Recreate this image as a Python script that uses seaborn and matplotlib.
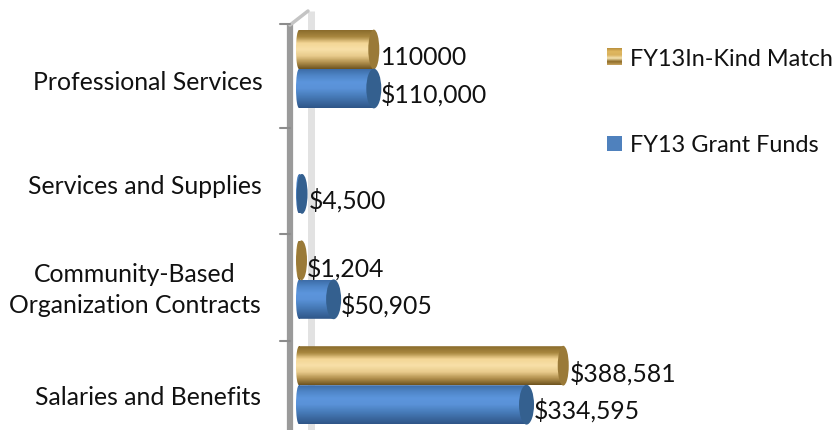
import numpy as np
import pandas as pd
import matplotlib
matplotlib.use('Agg')
import matplotlib.pyplot as plt
import seaborn as sns
from matplotlib.colors import LinearSegmentedColormap
from matplotlib.patches import Ellipse, Rectangle
from matplotlib.path import Path
from matplotlib.transforms import Affine2D

# Chart values, top to bottom
categories = ['Professional Services', 'Services and Supplies',
              'Community-Based\nOrganization Contracts', 'Salaries and Benefits']
series_names = ['FY13In-Kind Match', 'FY13 Grant Funds']
match_values = [110000, np.nan, 1204, 388581]
grant_values = [110000, 4500, 50905, 334595]
match_labels = ['110000', '', '$1,204', '$388,581']
grant_labels = ['$110,000', '$4,500', '$50,905', '$334,595']

gold_stops = ['#8a6c2c', '#a8873f', '#f3d696', '#f8e0a8', '#e8cb8c', '#b3924f', '#6f5420']
blue_stops = ['#3d6da8', '#4f86c8', '#5c95dc', '#5a92d8', '#4a7fbe', '#3d6ba3', '#2f5688']
gold_cap = '#9a7a38'
blue_cap = '#34608f'

# pixel layout of the picture
W, H = 833, 431
x0_px, x_scale = 296, 0.00068      # px of $0, px per dollar
y0_px, y_scale = 70, 105.4         # px of first category, px per category

sns.set_theme(style='white')
plt.rcParams['font.family'] = ['Lato', 'DejaVu Sans']
text_size = 17.8
legend_size = 16.9

df = pd.DataFrame({
    'category': categories * 2,
    'series': [series_names[0]] * 4 + [series_names[1]] * 4,
    'value': match_values + grant_values,
})

fig = plt.figure(figsize=(W / 100, H / 100), dpi=100)
ax = fig.add_axes([0, 0, 1, 1])
sns.barplot(data=df, y='category', x='value', hue='series', order=categories,
            hue_order=series_names, width=0.74, gap=0, legend=False, ax=ax,
            palette=[gold_cap, blue_cap], orient='h')


def px_x(p):
    return (p - x0_px) / x_scale


def px_y(p):
    return (p - y0_px) / y_scale


xlim = (px_x(0), px_x(W))
ylim = (px_y(H), px_y(0))
ax.set_xlabel('')
ax.set_ylabel('')
ax.set_yticks([])
ax.set_xticks([])
sns.despine(ax=ax, left=True, bottom=True)


def gradient(x1, x2, y1, y2, stops, clip=None, zorder=3):
    cmap = LinearSegmentedColormap.from_list('g', stops)
    im = ax.imshow(np.linspace(0, 1, 64).reshape(-1, 1), cmap=cmap, aspect='auto',
                   extent=(x1, x2, y2, y1), zorder=zorder, interpolation='bilinear')
    if clip is not None:
        im.set_clip_path(clip, transform=ax.transData)
    return im


def body_path(x2, y, h):
    # rectangle with a rounded left end
    r = 3 / x_scale
    rect = Path([(r, y), (x2, y), (x2, y + h), (r, y + h), (r, y)])
    end = Path.unit_circle().transformed(Affine2D().scale(r, h / 2).translate(r, y + h / 2))
    return Path.make_compound_path(rect, end)


# back wall and axis
ax.plot([px_x(311)] * 2, [px_y(12), px_y(431)], color='#e2e2e2', lw=5, zorder=1,
        solid_capstyle='butt')
ax.plot([px_x(290)] * 2, [px_y(25), px_y(431)], color='#9a9a9a', lw=4.5, zorder=2,
        solid_capstyle='butt')
ax.plot([px_x(290), px_x(308)], [px_y(26), px_y(12)], color='#c4c4c4', lw=2.5, zorder=2)
for tick in [25, 129, 235, 342]:
    ax.plot([px_x(280), px_x(290)], [px_y(tick)] * 2, color='#8c8c8c', lw=1.5, zorder=2)

# 3D look for the seaborn bars
cap_shift = 3 / x_scale
for cont, stops, cap, cap_w, labels, text_drop in zip(ax.containers, [gold_stops, blue_stops],
                                                      [gold_cap, blue_cap], [11, 15],
                                                      [match_labels, grant_labels], [-7, -5]):
    for bar in cont:
        w = bar.get_width()
        y = bar.get_y()
        h = bar.get_height()
        if np.isnan(w) or w == 0:
            continue
        lab = labels[int(round(y + h / 2))]
        bar.set_facecolor('none')
        bar.set_edgecolor('none')
        end = w + cap_shift
        gradient(0, end, y, y + h, stops, clip=body_path(end, y, h))
        # thin bars are just the end cap
        thin = w <= 6000
        this_cap = 11 if thin else cap_w
        cap_x = max(end, 5.5 / x_scale)
        ax.add_patch(Ellipse((cap_x, y + h / 2), this_cap / x_scale, h * 1.02, facecolor=cap,
                             edgecolor='none', zorder=4))
        ax.annotate(lab, (w, y + h / 2), xytext=(10, text_drop), textcoords='offset pixels',
                    fontsize=text_size, color='#111111', va='center', ha='left', zorder=5)

# category labels
label_x = [148, 145, 135, 148]
label_y = [83, 187, 290, 398]
for name, lx, ly in zip(categories, label_x, label_y):
    ax.text(px_x(lx), px_y(ly), name, ha='center', va='center', fontsize=text_size,
            color='#111111', linespacing=1.46)

# legend
gradient(px_x(607), px_x(622), px_y(49), px_y(66),
         ['#b98f3c', '#e0b860', '#d9b15c', '#f4e2b0', '#8d6b26', '#c9a460'])
ax.add_patch(Rectangle((px_x(607), px_y(137)), 15 / x_scale, 15 / y_scale,
                       facecolor='#4f81bd', edgecolor='none', zorder=3))
ax.text(px_x(630), px_y(59), series_names[0], fontsize=legend_size, va='center', color='#111111')
ax.text(px_x(630), px_y(146), series_names[1], fontsize=legend_size, va='center', color='#111111')

ax.set_xlim(xlim)
ax.set_ylim(ylim)
fig.savefig('out.png', dpi=100)
